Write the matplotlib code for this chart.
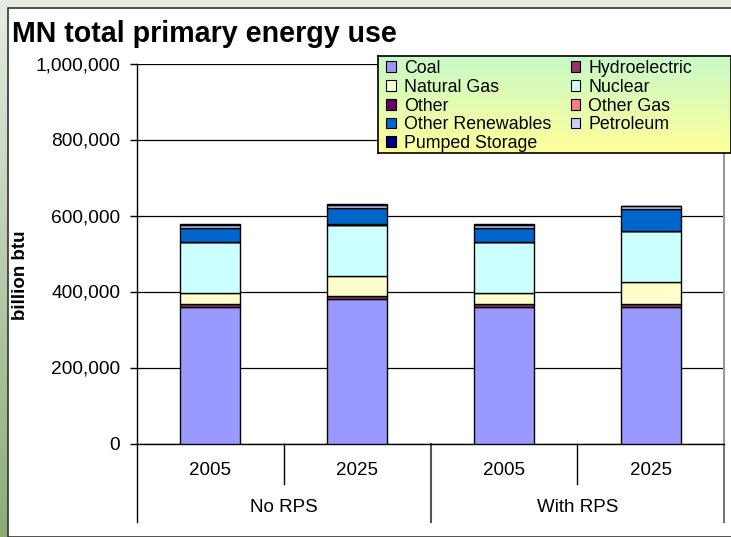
import matplotlib
matplotlib.use('Agg')
import matplotlib.pyplot as plt
import numpy as np
from matplotlib.patches import Patch, Rectangle
from matplotlib.colors import LinearSegmentedColormap
from matplotlib.ticker import FuncFormatter

plt.rcParams['font.family'] = ['Liberation Sans', 'DejaVu Sans']

# ---- data ----
years = ['2005', '2025', '2005', '2025']
scenarios = ['No RPS', 'With RPS']
sources = ['Coal', 'Hydroelectric', 'Natural Gas', 'Nuclear', 'Other',
           'Other Gas', 'Other Renewables', 'Petroleum', 'Pumped Storage']
coal = [358000, 380000, 358000, 358000]
hydro = [8000, 8000, 8000, 8000]
natural_gas = [30000, 54000, 30000, 60000]
nuclear = [133000, 133000, 133000, 133000]
other = [1000, 1000, 1000, 1000]
other_gas = [500, 500, 500, 500]
other_renewables = [37000, 44000, 37000, 57000]
petroleum = [8500, 8000, 8500, 8000]
pumped_storage = [500, 500, 500, 500]
series = [coal, hydro, natural_gas, nuclear, other, other_gas,
          other_renewables, petroleum, pumped_storage]
colors = ['#9999FF', '#993366', '#FFFFCC', '#CCFFFF', '#660066',
          '#FF8080', '#0066CC', '#CCCCFF', '#000080']

W, H = 731, 537
fig = plt.figure(figsize=(W / 100, H / 100), dpi=100)

# background gradient frame
bg = fig.add_axes([0, 0, 1, 1], zorder=-10)
cmap_bg = LinearSegmentedColormap.from_list('bg', ['#E6ECE2', '#8AAD76'])
bg.imshow(np.linspace(0, 1, 256).reshape(-1, 1), aspect='auto', cmap=cmap_bg,
          extent=[0, 1, 0, 1])
bg.add_patch(Rectangle((8 / W, 0), 1, 1 - 8 / H, transform=bg.transAxes,
                       facecolor='white', edgecolor='#333333', lw=1.2))
bg.set_xlim(0, 1); bg.set_ylim(0, 1)
bg.axis('off')

# main axes
ax_l, ax_r = 137 / W, 724 / W
ax_b, ax_t = 1 - 443.5 / H, 1 - 63.5 / H
ax = fig.add_axes([ax_l, ax_b, ax_r - ax_l, ax_t - ax_b])
ax.patch.set_alpha(0)

x = np.arange(len(years))
bottom = np.zeros(len(years))
for vals, col, name in zip(series, colors, sources):
    ax.bar(x, vals, width=0.41, bottom=bottom, color=col, edgecolor='black',
           linewidth=1.0, label=name, zorder=3)
    bottom += np.array(vals)

ax.set_xlim(-0.5, len(years) - 0.5)
ax.set_ylim(0, 1000000)
ax.set_yticks(np.arange(0, 1000001, 200000))
ax.yaxis.set_major_formatter(FuncFormatter(lambda v, p: f'{int(v):,}'))
ax.tick_params(axis='y', length=5, width=1, direction='out', pad=7,
               labelsize=13.8, color='black')
ax.set_xticks([])
ax.yaxis.grid(True, color='black', lw=0.9)
ax.set_axisbelow(True)
ax.spines['top'].set_visible(False)
ax.spines['right'].set_color('#999999')
ax.spines['right'].set_linewidth(1.5)
ax.spines['left'].set_linewidth(1.0)
ax.spines['bottom'].set_linewidth(1.0)

# category axis decoration
tr = ax.get_xaxis_transform()
short = -40 / 380
long_ = -78 / 380
for xv in [0.5, 2.5]:
    ax.plot([xv, xv], [0, short], transform=tr, color='black', lw=1, clip_on=False)
ax.plot([1.5, 1.5], [0, long_], transform=tr, color='#555555', lw=1.5, clip_on=False)
ax.plot([-0.5, -0.5], [0, long_], transform=tr, color='black', lw=1, clip_on=False)
ax.plot([3.5, 3.5], [0, long_], transform=tr, color='#777777', lw=1.5, clip_on=False)
for xi, yr in zip(x, years):
    ax.text(xi, -27 / 380, yr, transform=tr, ha='center', va='center', fontsize=13.5)
for gi, sc in enumerate(scenarios):
    ax.text(0.5 + 2 * gi, -64 / 380, sc, transform=tr, ha='center', va='center',
            fontsize=13.5)

# titles
fig.text(12 / W, 1 - 34 / H, 'MN total primary energy use', ha='left', va='center',
         fontsize=20.6, fontweight='bold')
fig.text(21 / W, 1 - 275 / H, 'billion btu', rotation=90, ha='center', va='center',
         fontsize=13.5, fontweight='bold')

# legend panel with gradient
lg_l, lg_t, lg_b = 378 / W, 1 - 56 / H, 1 - 153 / H
lax = fig.add_axes([lg_l, lg_b, 1 - lg_l, lg_t - lg_b], zorder=5)
cmap_lg = LinearSegmentedColormap.from_list('lg', ['#FFFF99', '#C8FAC8'])
lax.imshow(np.linspace(0, 1, 256).reshape(-1, 1), aspect='auto', cmap=cmap_lg,
           origin='lower', extent=[0, 1, 0, 1])
lax.set_xlim(0, 1); lax.set_ylim(0, 1)
lax.set_xticks([]); lax.set_yticks([])
for s in lax.spines.values():
    s.set_color('black'); s.set_linewidth(1.2)

order = [0, 2, 4, 6, 8, 1, 3, 5, 7]
handles = [Patch(facecolor=colors[i], edgecolor='black', lw=0.8, label=sources[i])
           for i in order]
leg = lax.legend(handles=handles, ncol=2, loc='upper left',
                 bbox_to_anchor=(386 / W, 1 - 60 / H), bbox_transform=fig.transFigure,
                 frameon=False, fontsize=12.8, handlelength=0.55, handleheight=0.55,
                 handletextpad=0.45, labelspacing=0.1, columnspacing=1.1,
                 borderpad=0, borderaxespad=0)

fig.savefig('out.png', dpi=100)
